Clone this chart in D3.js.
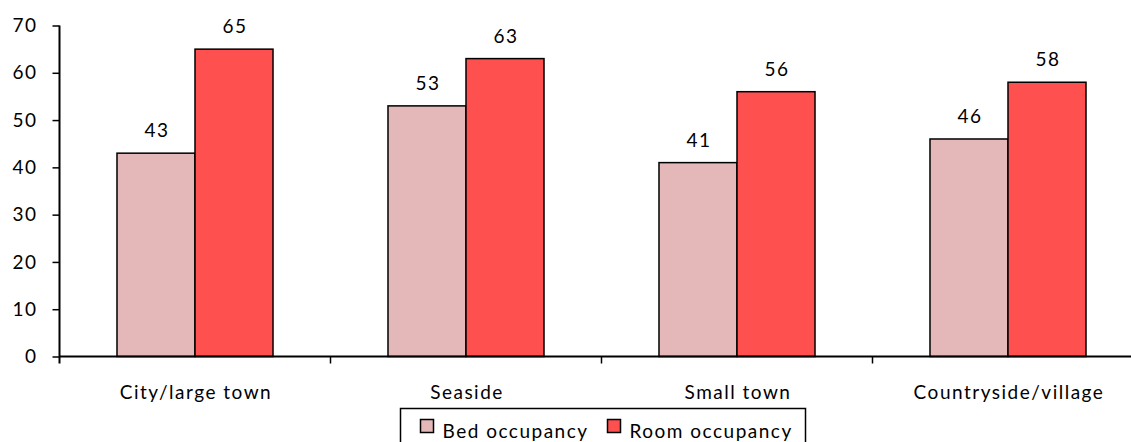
<!DOCTYPE html>
<html>
<head>
<meta charset="utf-8">
<script src="https://cdn.jsdelivr.net/npm/d3@7"></script>
<style>
  body { margin: 0; background: #fff; }
  svg { display: block; font-family: Lato, "Open Sans", sans-serif; }
  svg text { letter-spacing: 1.5px; }
</style>
</head>
<body>
<svg id="chart" width="1131" height="442"></svg>
<script>
// categories and series
var categories = ['City/large town', 'Seaside', 'Small town', 'Countryside/village'];
var bed_occupancy = [43, 53, 41, 46];
var room_occupancy = [65, 63, 56, 58];
var series_names = ['Bed occupancy', 'Room occupancy'];
var y_ticks = [0, 10, 20, 30, 40, 50, 60, 70];

var colors = ['#e4b8b8', '#ff5050'];
var font_size = 19;
var svg = d3.select('#chart');

var plot_left = 59.5, plot_bottom = 356.5, plot_top = 25.5;
var band = 271;

var x = d3.scaleBand()
    .domain(categories)
    .range([plot_left, plot_left + band * categories.length])
    .paddingInner(0).paddingOuter(0);
var inner = d3.scaleBand()
    .domain(series_names)
    .range([0, band])
    .paddingInner(0)
    .paddingOuter(0.737);
var y = d3.scaleLinear().domain([0, 70]).range([plot_bottom, plot_top]);

// bars
var rows = categories.map(function (c, i) {
    return [
        { cat: c, s: 0, v: bed_occupancy[i] },
        { cat: c, s: 1, v: room_occupancy[i] }
    ];
});

var groups = svg.selectAll('g.cat')
    .data(rows)
  .enter().append('g')
    .attr('class', 'cat')
    .attr('transform', function (d) { return 'translate(' + x(d[0].cat) + ',0)'; });

groups.selectAll('rect')
    .data(function (d) { return d; })
  .enter().append('rect')
    .attr('x', function (d) { return inner(series_names[d.s]); })
    .attr('y', function (d) { return y(d.v); })
    .attr('width', inner.bandwidth())
    .attr('height', function (d) { return y(0) - y(d.v); })
    .attr('fill', function (d) { return colors[d.s]; })
    .attr('stroke', '#000')
    .attr('stroke-width', 1.5);

groups.selectAll('text.val')
    .data(function (d) { return d; })
  .enter().append('text')
    .attr('class', 'val')
    .attr('x', function (d) { return inner(series_names[d.s]) + inner.bandwidth() / 2 + 1; })
    .attr('y', function (d) { return y(d.v) - 16; })
    .attr('text-anchor', 'middle')
    .attr('font-size', font_size)
    .attr('fill', '#000')
    .text(function (d) { return d.v; });

// y axis
var yAxis = svg.append('g')
    .attr('transform', 'translate(' + plot_left + ',0)')
    .call(d3.axisLeft(y).tickValues(y_ticks).tickSize(7).tickPadding(15));
yAxis.select('.domain').attr('stroke', '#000').attr('stroke-width', 2)
    .attr('d', 'M0,' + plot_top + 'V' + (plot_bottom + 7));
yAxis.selectAll('.tick line').attr('stroke', '#000').attr('stroke-width', 1.5);
yAxis.selectAll('.tick text').attr('font-size', font_size).attr('fill', '#000')
    .attr('font-family', 'Lato, "Open Sans", sans-serif');

// x axis: baseline plus ticks at band boundaries
var xAxis = svg.append('g').attr('class', 'x-axis');
xAxis.append('line')
    .attr('x1', plot_left).attr('x2', plot_left + band * categories.length)
    .attr('y1', plot_bottom).attr('y2', plot_bottom)
    .attr('stroke', '#000').attr('stroke-width', 2);
xAxis.selectAll('line.tick')
    .data(categories.slice(1))
  .enter().append('line')
    .attr('class', 'tick')
    .attr('x1', function (d) { return x(d); })
    .attr('x2', function (d) { return x(d); })
    .attr('y1', plot_bottom).attr('y2', plot_bottom + 7)
    .attr('stroke', '#000').attr('stroke-width', 1.5);
xAxis.selectAll('text')
    .data(categories)
  .enter().append('text')
    .attr('x', function (d) { return x(d) + band / 2 + 1; })
    .attr('y', plot_bottom + 42)
    .attr('text-anchor', 'middle')
    .attr('font-size', font_size)
    .attr('fill', '#000')
    .text(function (d) { return d; });

// legend
var legend = svg.append('g').attr('transform', 'translate(400.5,408.5)');
legend.append('rect')
    .attr('width', 405).attr('height', 40)
    .attr('fill', '#fff').attr('stroke', '#000').attr('stroke-width', 1.5);
var item_x = [20, 207];
var items = legend.selectAll('g.item')
    .data(series_names)
  .enter().append('g')
    .attr('class', 'item')
    .attr('transform', function (d, i) { return 'translate(' + item_x[i] + ',0)'; });
items.append('rect')
    .attr('x', 0).attr('y', 11).attr('width', 13).attr('height', 13)
    .attr('fill', function (d, i) { return colors[i]; })
    .attr('stroke', '#000').attr('stroke-width', 1.5);
items.append('text')
    .attr('x', 22).attr('y', 29)
    .attr('font-size', font_size)
    .attr('fill', '#000')
    .text(function (d) { return d; });
</script>
</body>
</html>
